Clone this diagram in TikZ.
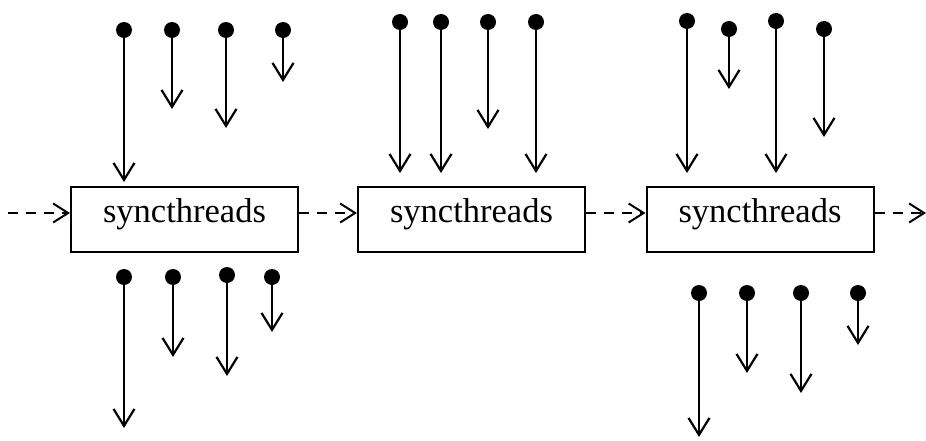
\documentclass[tikz,border=0pt]{standalone}
\usepackage{fontspec}
\setmainfont{Liberation Serif}
\usetikzlibrary{arrows.meta}
\begin{document}
\begin{tikzpicture}[x=1pt,y=-1pt,
  syncbox/.style={draw,line width=2pt,minimum width=227pt,inner sep=0pt,
    text height=35pt,text depth=30pt,font=\fontsize{34.5}{40}\selectfont},
  dotnode/.style={circle,fill=black,minimum size=16pt,inner sep=0pt},
  arr/.style={line width=2.2pt,-{Straight Barb[length=17pt,width=21pt,line width=2.2pt]}},
  dasharr/.style={line width=2pt,dash pattern=on 10pt off 8pt,-{Straight Barb[length=15pt,width=19pt,line width=2pt]}}]
\useasboundingbox (0,0) rectangle (926,441);
\node[syncbox] (b1) at (184.5,219.5) {syncthreads};
\node[syncbox] (b2) at (471.5,219.5) {syncthreads};
\node[syncbox] (b3) at (760,219.5) {syncthreads};
\coordinate (in) at (8,213);
\coordinate (out) at (926,213);
\draw[dasharr] (in) -- ([yshift=6.5pt]b1.west);
\draw[dasharr] ([yshift=6.5pt]b1.east) -- ([yshift=6.5pt]b2.west);
\draw[dasharr] ([yshift=6.5pt]b2.east) -- ([yshift=6.5pt]b3.west);
\draw[dasharr] ([yshift=6.5pt]b3.east) -- (out);
\foreach \n/\x/\ya/\yb in {
  ta/124/30/182, tb/172/30/109, tc/226/30/128, td/283/30/82,
  ua/124/277/428, ub/173/277/357, uc/227/275/376, ud/272/277/332,
  va/400/22/173, vb/441/22/173, vc/488/22/129, vd/536/22/173,
  wa/687/21/173, wb/729/29/89, wc/776/21/173, wd/824/29/137,
  xa/699/293/437, xb/747/293/373, xc/801/293/393, xd/858/293/345} {
  \node[dotnode] (\n) at (\x,\ya) {};
  \coordinate (\n e) at (\x,\yb);
  \draw[arr] (\n.center) -- (\n e);
}
\end{tikzpicture}
\end{document}
